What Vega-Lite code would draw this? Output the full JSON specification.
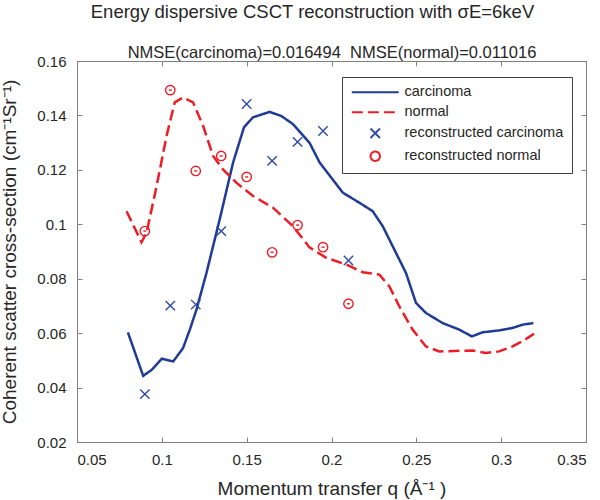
{
  "$schema": "https://vega.github.io/schema/vega-lite/v6.json",
  "autosize": "none",
  "width": 509,
  "height": 381,
  "padding": {"left": 77, "top": 61, "right": 14, "bottom": 58},
  "background": "white",
  "title": {
    "text": "Energy dispersive CSCT reconstruction with σE=6keV",
    "font": "Liberation Sans",
    "fontSize": 18.5,
    "fontWeight": "normal",
    "color": "#262626",
    "anchor": "middle",
    "dx": -19,
    "offset": 23
  },
  "config": {
    "view": {"stroke": null},
    "axis": {
      "domainColor": "#808080",
      "tickColor": "#808080",
      "labelColor": "#262626",
      "titleColor": "#262626",
      "labelFont": "Liberation Sans",
      "titleFont": "Liberation Sans",
      "labelFontSize": 15,
      "titleFontSize": 19,
      "titleFontWeight": "normal",
      "grid": false,
      "tickSize": -5
    }
  },
  "data": {
    "values": [
      {"q": 0.080, "v": 0.0603, "series": "carcinoma"},
      {"q": 0.089, "v": 0.0443, "series": "carcinoma"},
      {"q": 0.094, "v": 0.0465, "series": "carcinoma"},
      {"q": 0.100, "v": 0.0506, "series": "carcinoma"},
      {"q": 0.1067, "v": 0.0496, "series": "carcinoma"},
      {"q": 0.1125, "v": 0.0545, "series": "carcinoma"},
      {"q": 0.1165, "v": 0.0613, "series": "carcinoma"},
      {"q": 0.1204, "v": 0.0686, "series": "carcinoma"},
      {"q": 0.1263, "v": 0.0821, "series": "carcinoma"},
      {"q": 0.1341, "v": 0.1018, "series": "carcinoma"},
      {"q": 0.1420, "v": 0.1227, "series": "carcinoma"},
      {"q": 0.1484, "v": 0.1356, "series": "carcinoma"},
      {"q": 0.1537, "v": 0.1393, "series": "carcinoma"},
      {"q": 0.1635, "v": 0.1413, "series": "carcinoma"},
      {"q": 0.1704, "v": 0.1398, "series": "carcinoma"},
      {"q": 0.1773, "v": 0.1368, "series": "carcinoma"},
      {"q": 0.1870, "v": 0.1300, "series": "carcinoma"},
      {"q": 0.1930, "v": 0.1227, "series": "carcinoma"},
      {"q": 0.1988, "v": 0.1180, "series": "carcinoma"},
      {"q": 0.2067, "v": 0.1116, "series": "carcinoma"},
      {"q": 0.2165, "v": 0.1079, "series": "carcinoma"},
      {"q": 0.2243, "v": 0.1048, "series": "carcinoma"},
      {"q": 0.2302, "v": 0.0993, "series": "carcinoma"},
      {"q": 0.2380, "v": 0.0895, "series": "carcinoma"},
      {"q": 0.2439, "v": 0.0821, "series": "carcinoma"},
      {"q": 0.2498, "v": 0.0711, "series": "carcinoma"},
      {"q": 0.2557, "v": 0.0674, "series": "carcinoma"},
      {"q": 0.2655, "v": 0.0637, "series": "carcinoma"},
      {"q": 0.2753, "v": 0.0613, "series": "carcinoma"},
      {"q": 0.2827, "v": 0.0588, "series": "carcinoma"},
      {"q": 0.2890, "v": 0.0603, "series": "carcinoma"},
      {"q": 0.2988, "v": 0.0610, "series": "carcinoma"},
      {"q": 0.3067, "v": 0.0619, "series": "carcinoma"},
      {"q": 0.3125, "v": 0.0631, "series": "carcinoma"},
      {"q": 0.3190, "v": 0.0637, "series": "carcinoma"},
      {"q": 0.0792, "v": 0.1048, "series": "normal"},
      {"q": 0.0880, "v": 0.0934, "series": "normal"},
      {"q": 0.0910, "v": 0.0969, "series": "normal"},
      {"q": 0.0969, "v": 0.1140, "series": "normal"},
      {"q": 0.1028, "v": 0.1325, "series": "normal"},
      {"q": 0.1076, "v": 0.1448, "series": "normal"},
      {"q": 0.1125, "v": 0.1466, "series": "normal"},
      {"q": 0.1184, "v": 0.1448, "series": "normal"},
      {"q": 0.1243, "v": 0.1362, "series": "normal"},
      {"q": 0.1302, "v": 0.1251, "series": "normal"},
      {"q": 0.1360, "v": 0.1202, "series": "normal"},
      {"q": 0.1439, "v": 0.1153, "series": "normal"},
      {"q": 0.1537, "v": 0.1104, "series": "normal"},
      {"q": 0.1655, "v": 0.1061, "series": "normal"},
      {"q": 0.1773, "v": 0.0993, "series": "normal"},
      {"q": 0.1870, "v": 0.0915, "series": "normal"},
      {"q": 0.1969, "v": 0.0877, "series": "normal"},
      {"q": 0.2087, "v": 0.0852, "series": "normal"},
      {"q": 0.2184, "v": 0.0824, "series": "normal"},
      {"q": 0.2282, "v": 0.0815, "series": "normal"},
      {"q": 0.2341, "v": 0.0772, "series": "normal"},
      {"q": 0.2400, "v": 0.0698, "series": "normal"},
      {"q": 0.2478, "v": 0.0613, "series": "normal"},
      {"q": 0.2557, "v": 0.0551, "series": "normal"},
      {"q": 0.2635, "v": 0.0533, "series": "normal"},
      {"q": 0.2753, "v": 0.0535, "series": "normal"},
      {"q": 0.2831, "v": 0.0536, "series": "normal"},
      {"q": 0.2910, "v": 0.0527, "series": "normal"},
      {"q": 0.2988, "v": 0.0533, "series": "normal"},
      {"q": 0.3067, "v": 0.0551, "series": "normal"},
      {"q": 0.3125, "v": 0.0570, "series": "normal"},
      {"q": 0.3194, "v": 0.0598, "series": "normal"},
      {"q": 0.090, "v": 0.0376, "series": "reconstructed carcinoma"},
      {"q": 0.105, "v": 0.0701, "series": "reconstructed carcinoma"},
      {"q": 0.120, "v": 0.0705, "series": "reconstructed carcinoma"},
      {"q": 0.135, "v": 0.0975, "series": "reconstructed carcinoma"},
      {"q": 0.150, "v": 0.1442, "series": "reconstructed carcinoma"},
      {"q": 0.165, "v": 0.1233, "series": "reconstructed carcinoma"},
      {"q": 0.180, "v": 0.1303, "series": "reconstructed carcinoma"},
      {"q": 0.195, "v": 0.1343, "series": "reconstructed carcinoma"},
      {"q": 0.210, "v": 0.0867, "series": "reconstructed carcinoma"},
      {"q": 0.090, "v": 0.0975, "series": "reconstructed normal"},
      {"q": 0.105, "v": 0.1493, "series": "reconstructed normal"},
      {"q": 0.120, "v": 0.1196, "series": "reconstructed normal"},
      {"q": 0.135, "v": 0.1251, "series": "reconstructed normal"},
      {"q": 0.150, "v": 0.1174, "series": "reconstructed normal"},
      {"q": 0.165, "v": 0.0897, "series": "reconstructed normal"},
      {"q": 0.180, "v": 0.0997, "series": "reconstructed normal"},
      {"q": 0.195, "v": 0.0916, "series": "reconstructed normal"},
      {"q": 0.210, "v": 0.0708, "series": "reconstructed normal"}
    ]
  },
  "layer": [
    {
      "transform": [{"filter": "datum.series === 'carcinoma' || datum.series === 'normal'"}],
      "mark": {"type": "line", "strokeWidth": 2.5},
      "encoding": {
        "x": {"field": "q", "type": "quantitative", "scale": {"domain": [0.05, 0.35], "nice": false, "zero": false},
          "axis": {"orient": "bottom", "values": [0.05, 0.1, 0.15, 0.2, 0.25, 0.3, 0.35], "format": "~g", "labelPadding": 15, "title": "Momentum transfer q (Å⁻¹ )", "titlePadding": 12}},
        "y": {"field": "v", "type": "quantitative", "scale": {"domain": [0.02, 0.16], "nice": false, "zero": false},
          "axis": {"orient": "left", "values": [0.02, 0.04, 0.06, 0.08, 0.1, 0.12, 0.14, 0.16], "format": "~g", "labelPadding": 16, "title": "Coherent scatter cross-section (cm⁻¹Sr⁻¹)", "titlePadding": 17}},
        "color": {"field": "series", "type": "nominal",
          "scale": {"domain": ["carcinoma", "normal", "reconstructed carcinoma", "reconstructed normal"], "range": ["#1f3b96", "#ee1c24", "#2d4aa5", "#ee1c24"]},
          "legend": {
            "orient": "none", "legendX": 265, "legendY": 16, "title": null,
            "labelFont": "Liberation Sans", "labelFontSize": 14.5, "labelColor": "#262626", "labelLimit": 400,
            "strokeColor": "#404040", "fillColor": "white", "padding": 8,
            "symbolStrokeWidth": 2, "symbolOffset": 18, "labelOffset": 22, "rowPadding": 5
          }},
        "strokeDash": {"field": "series", "type": "nominal",
          "scale": {"domain": ["carcinoma", "normal", "reconstructed carcinoma", "reconstructed normal"], "range": [[1, 0], [11, 5], [1, 0], [1, 0]]}},
        "strokeWidth": {"field": "series", "type": "nominal",
          "scale": {"domain": ["carcinoma", "normal"], "range": [2.5, 3.5]}, "legend": null}
      }
    },
    {
      "transform": [{"filter": "datum.series === 'reconstructed carcinoma' || datum.series === 'reconstructed normal'"}],
      "mark": {"type": "point", "filled": false, "strokeWidth": 1.4, "opacity": 1},
      "encoding": {
        "x": {"field": "q", "type": "quantitative", "axis": null},
        "y": {"field": "v", "type": "quantitative", "axis": null},
        "color": {"field": "series", "type": "nominal"},
        "shape": {"field": "series", "type": "nominal",
          "scale": {"domain": ["carcinoma", "normal", "reconstructed carcinoma", "reconstructed normal"], "range": ["M-5,0H5", "M-5,0H5", "M-1,-1L1,1M-1,1L1,-1", "circle"]}},
        "size": {"field": "series", "type": "nominal",
          "scale": {"domain": ["carcinoma", "normal", "reconstructed carcinoma", "reconstructed normal"], "range": [88, 88, 64, 110]}}
      }
    },
    {
      "transform": [{"filter": "datum.series === 'reconstructed normal'"}],
      "mark": {"type": "point", "shape": "stroke", "filled": false, "size": 9, "strokeWidth": 1.4, "opacity": 1, "color": "#ee1c24"},
      "encoding": {
        "x": {"field": "q", "type": "quantitative",
          "axis": {"orient": "top", "labels": false, "values": [0.05, 0.1, 0.15, 0.2, 0.25, 0.3, 0.35],
            "title": "NMSE(carcinoma)=0.016494\u00a0 NMSE(normal)=0.011016", "titleFontSize": 16.5, "titlePadding": 0}},
        "y": {"field": "v", "type": "quantitative",
          "axis": {"orient": "right", "labels": false, "title": null, "values": [0.02, 0.04, 0.06, 0.08, 0.1, 0.12, 0.14, 0.16]}}
      }
    }
  ],
  "resolve": {"axis": {"x": "independent", "y": "independent"}}
}
